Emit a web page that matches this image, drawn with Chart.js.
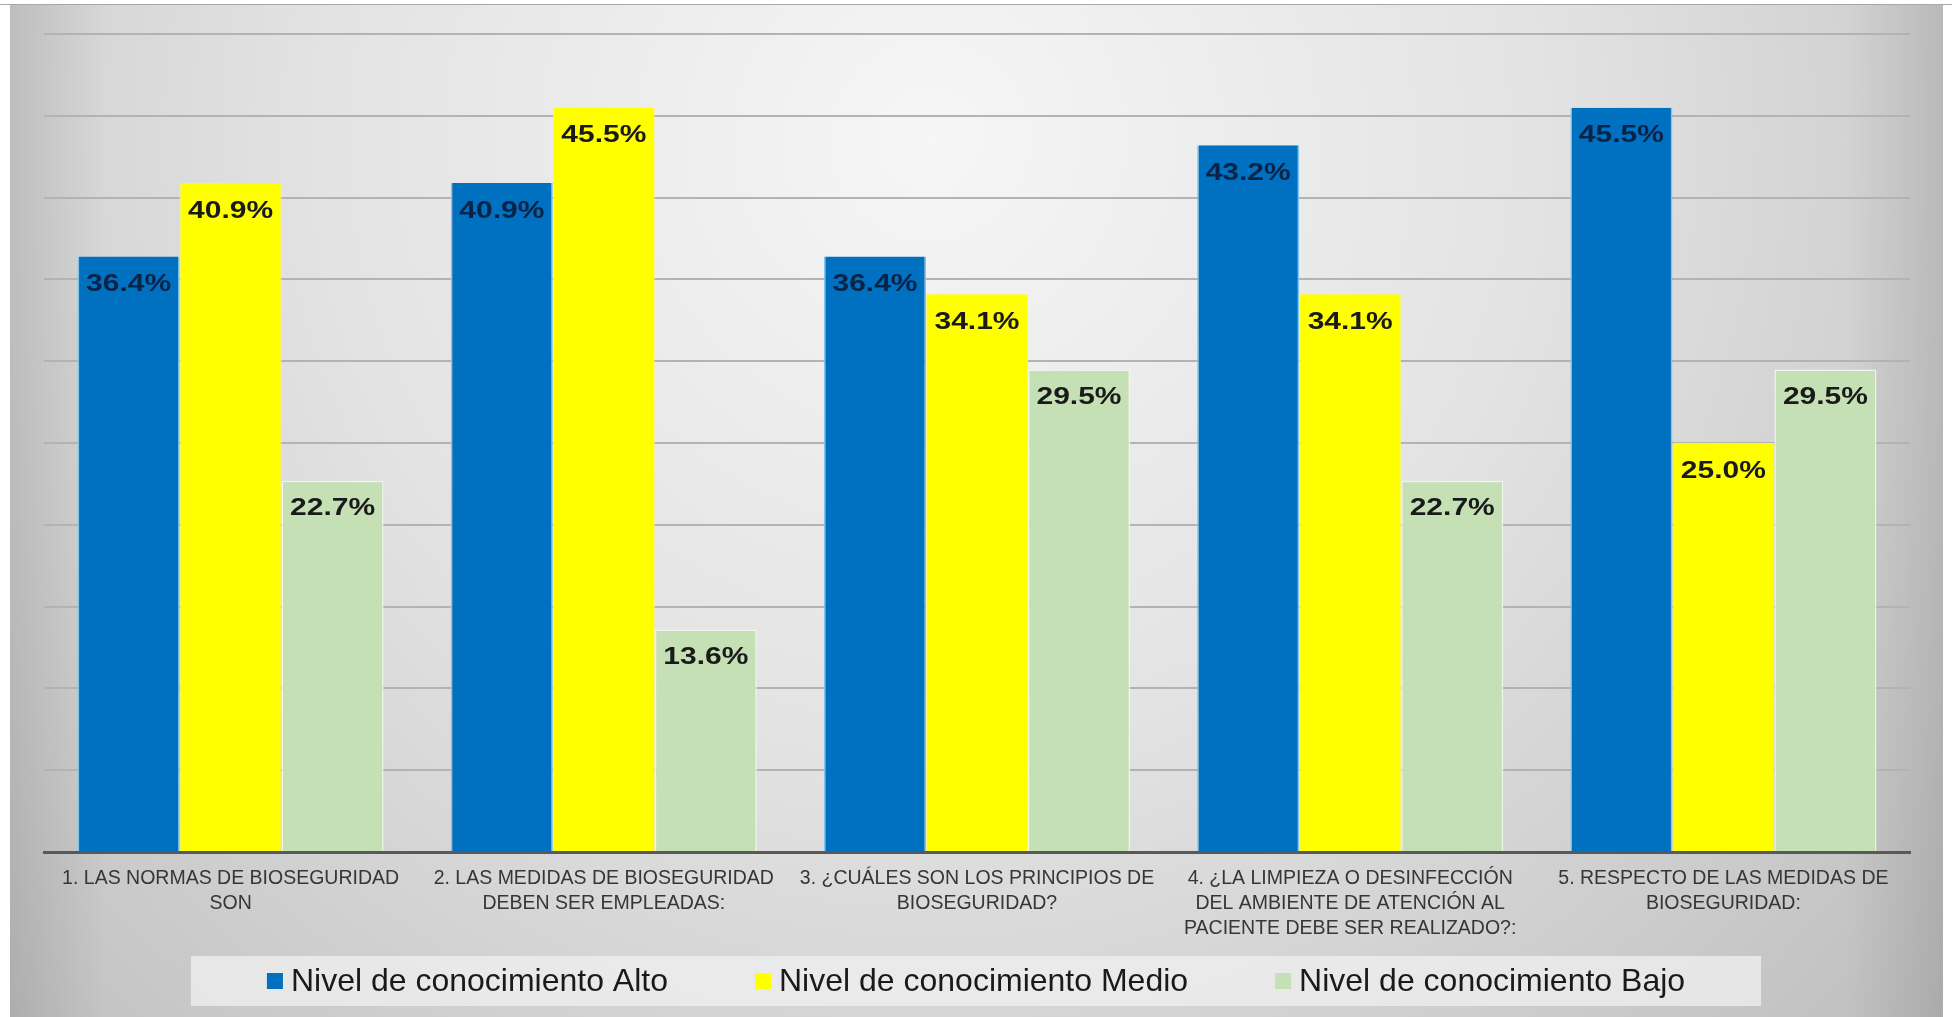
<!DOCTYPE html>
<html lang="es">
<head>
<meta charset="utf-8">
<title>Nivel de conocimiento sobre bioseguridad</title>
<script src="https://cdn.jsdelivr.net/npm/chart.js@4.4.1/dist/chart.umd.min.js"></script>
<style>
    html, body { margin: 0; padding: 0; background: #ffffff; }
    canvas { display: block; }
</style>
</head>
<body>
<canvas id="conocimientoChart" width="1952" height="1017"></canvas>

<script>
// Preguntas del cuestionario (una linea por renglon de la etiqueta)
const preguntas = [
    ['1. LAS NORMAS DE BIOSEGURIDAD', 'SON'],
    ['2. LAS MEDIDAS DE BIOSEGURIDAD', 'DEBEN SER EMPLEADAS:'],
    ['3. ¿CUÁLES SON LOS PRINCIPIOS DE', 'BIOSEGURIDAD?'],
    ['4. ¿LA LIMPIEZA O DESINFECCIÓN', 'DEL AMBIENTE DE ATENCIÓN AL', 'PACIENTE DEBE SER REALIZADO?:'],
    ['5. RESPECTO DE LAS MEDIDAS DE', 'BIOSEGURIDAD:']
];

// Porcentajes por nivel de conocimiento
const nivelAlto = [36.4, 40.9, 36.4, 43.2, 45.5];
const nivelMedio = [40.9, 45.5, 34.1, 34.1, 25.0];
const nivelBajo = [22.7, 13.6, 29.5, 22.7, 29.5];

const nombresNivel = [
    'Nivel de conocimiento Alto',
    'Nivel de conocimiento Medio',
    'Nivel de conocimiento Bajo'
];

// Eje Y: 0 a 50 % en pasos de 5 (sin etiquetas visibles)
const ejeYMin = 0;
const ejeYMax = 50;
const ejeYPaso = 5;

const FUENTE = '"Liberation Sans", Arial, sans-serif';

// Fondo gris degradado del grafico
const fondoGris = {
    id: 'fondoGris',
    beforeDraw(chart) {
        const { ctx, width, height } = chart;
        const x0 = 10, y0 = 4, x1 = width - 9;
        ctx.save();
        ctx.fillStyle = '#ffffff';
        ctx.fillRect(0, 0, width, height);

        const rad = ctx.createRadialGradient(930, 140, 0, 930, 140, 1350);
        rad.addColorStop(0, '#f6f6f6');
        rad.addColorStop(0.45, '#e3e3e3');
        rad.addColorStop(1, '#bdbdbd');
        ctx.fillStyle = rad;
        ctx.fillRect(x0, y0, x1 - x0, height - y0);

        const lados = ctx.createLinearGradient(x0, 0, x1, 0);
        lados.addColorStop(0, 'rgba(0,0,0,0.10)');
        lados.addColorStop(0.05, 'rgba(0,0,0,0)');
        lados.addColorStop(0.95, 'rgba(0,0,0,0)');
        lados.addColorStop(1, 'rgba(0,0,0,0.10)');
        ctx.fillStyle = lados;
        ctx.fillRect(x0, y0, x1 - x0, height - y0);

        ctx.strokeStyle = '#a8a8a8';
        ctx.lineWidth = 1;
        ctx.beginPath();
        ctx.moveTo(0, y0 + 0.5);
        ctx.lineTo(width, y0 + 0.5);
        ctx.stroke();
        ctx.restore();
    }
};

// Porcentaje escrito dentro del extremo superior de cada barra
const etiquetasValor = {
    id: 'etiquetasValor',
    afterDatasetsDraw(chart, args, opts) {
        const { ctx } = chart;
        ctx.save();
        ctx.font = 'bold ' + opts.size + 'px ' + FUENTE;
        ctx.textAlign = 'center';
        ctx.textBaseline = 'middle';
        chart.data.datasets.forEach((ds, i) => {
            const meta = chart.getDatasetMeta(i);
            ctx.fillStyle = opts.colores[i];
            meta.data.forEach((bar, j) => {
                ctx.save();
                ctx.translate(bar.x, bar.y + opts.offset);
                ctx.scale(opts.estirar, 1);
                ctx.fillText(ds.data[j].toFixed(1) + '%', 0, 0);
                ctx.restore();
            });
        });
        ctx.restore();
    }
};

// Leyenda centrada dentro de una franja clara
const leyendaCaja = {
    id: 'leyendaCaja',
    afterDraw(chart, args, opts) {
        const { ctx } = chart;
        const series = chart.data.datasets;
        ctx.save();
        ctx.font = opts.size + 'px ' + FUENTE;
        const anchos = series.map(ds => opts.cuadro + opts.sepTexto + ctx.measureText(ds.label).width);
        const total = anchos.reduce((a, b) => a + b, 0) + opts.sepItem * (series.length - 1);
        let x = (chart.width - total) / 2;
        const cy = chart.scales.x.bottom + opts.offset;

        ctx.fillStyle = opts.fondo;
        ctx.fillRect(x - opts.margenX, cy - opts.alto / 2, total + 2 * opts.margenX, opts.alto);

        ctx.textBaseline = 'middle';
        series.forEach((ds, i) => {
            ctx.fillStyle = ds.backgroundColor;
            ctx.fillRect(x, cy - opts.cuadro / 2, opts.cuadro, opts.cuadro);
            ctx.fillStyle = opts.color;
            ctx.fillText(ds.label, x + opts.cuadro + opts.sepTexto, cy + 1);
            x += anchos[i] + opts.sepItem;
        });
        ctx.restore();
    }
};

function initConocimientoChart() {
    const ctx = document.getElementById('conocimientoChart').getContext('2d');
    new Chart(ctx, {
        type: 'bar',
        data: {
            labels: preguntas,
            datasets: [
                {
                    label: nombresNivel[0],
                    data: nivelAlto,
                    backgroundColor: '#0070c0',
                    borderColor: '#7fc3ec',
                    borderWidth: { left: 1.5, right: 1.5, top: 0, bottom: 0 },
                    borderSkipped: false
                },
                {
                    label: nombresNivel[1],
                    data: nivelMedio,
                    backgroundColor: '#ffff00',
                    borderColor: '#f6f68c',
                    borderWidth: { left: 1, right: 1, top: 0, bottom: 0 },
                    borderSkipped: false
                },
                {
                    label: nombresNivel[2],
                    data: nivelBajo,
                    backgroundColor: '#c5e0b4',
                    borderColor: '#eef5ea',
                    borderWidth: { left: 1.5, right: 1.5, top: 1.5, bottom: 0 },
                    borderSkipped: false
                }
            ]
        },
        options: {
            responsive: false,
            animation: false,
            devicePixelRatio: 1,
            categoryPercentage: 0.82,
            barPercentage: 1.0,
            layout: {
                padding: { left: 44, right: 42, top: 34, bottom: 62 }
            },
            plugins: {
                legend: { display: false },
                tooltip: { enabled: false },
                etiquetasValor: {
                    size: 24,
                    offset: 28,
                    estirar: 1.25,
                    colores: ['#0b2347', '#1a1a1a', '#1a1a1a']
                },
                leyendaCaja: {
                    size: 32,
                    cuadro: 16,
                    sepTexto: 8,
                    sepItem: 87,
                    margenX: 76,
                    alto: 50,
                    offset: 26,
                    fondo: 'rgba(240,240,240,0.75)',
                    color: '#1a1a1a'
                }
            },
            scales: {
                x: {
                    grid: { display: false, drawTicks: false },
                    border: { display: true, color: '#595959', width: 3 },
                    ticks: {
                        autoSkip: false,
                        maxRotation: 0,
                        minRotation: 0,
                        padding: 14,
                        color: '#363636',
                        font: { family: FUENTE, size: 19.5, lineHeight: 1.28 }
                    }
                },
                y: {
                    min: ejeYMin,
                    max: ejeYMax,
                    ticks: { display: false, stepSize: ejeYPaso },
                    grid: { color: '#b3b3b3', lineWidth: 2, drawTicks: false },
                    border: { display: false }
                }
            }
        },
        plugins: [fondoGris, etiquetasValor, leyendaCaja]
    });
}

initConocimientoChart();
</script>
</body>
</html>
